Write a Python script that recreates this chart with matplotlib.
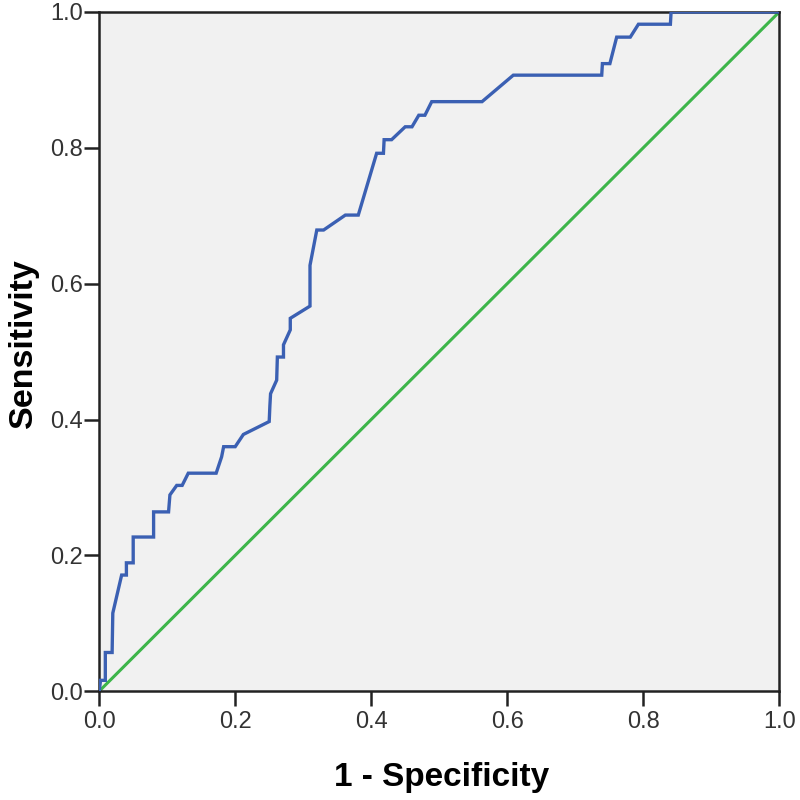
import matplotlib
matplotlib.use("Agg")
import matplotlib.pyplot as plt

# ROC curve points (1 - specificity, sensitivity)
fpr = [0.000, 0.002, 0.009, 0.009, 0.019, 0.020, 0.033, 0.040, 0.040, 0.050,
       0.050, 0.080, 0.080, 0.102, 0.104, 0.114, 0.122, 0.131, 0.172, 0.180,
       0.183, 0.200, 0.212, 0.250, 0.251, 0.252, 0.261, 0.262, 0.271, 0.271,
       0.281, 0.281, 0.310, 0.310, 0.320, 0.330, 0.362, 0.381, 0.408, 0.418,
       0.419, 0.430, 0.450, 0.460, 0.470, 0.479, 0.489, 0.563, 0.609, 0.739,
       0.740, 0.751, 0.761, 0.781, 0.793, 0.840, 0.841, 1.000]
tpr = [0.000, 0.016, 0.016, 0.057, 0.057, 0.115, 0.171, 0.171, 0.189, 0.189,
       0.227, 0.227, 0.264, 0.264, 0.289, 0.303, 0.303, 0.321, 0.321, 0.345,
       0.360, 0.360, 0.378, 0.397, 0.420, 0.438, 0.458, 0.492, 0.492, 0.510,
       0.532, 0.549, 0.567, 0.627, 0.679, 0.679, 0.701, 0.701, 0.792, 0.792,
       0.812, 0.812, 0.831, 0.831, 0.848, 0.848, 0.868, 0.868, 0.907, 0.907,
       0.924, 0.924, 0.963, 0.963, 0.982, 0.982, 1.000, 1.000]

ref_line = [0.0, 1.0]
ticks = [0.0, 0.2, 0.4, 0.6, 0.8, 1.0]
tick_labels = ["0.0", "0.2", "0.4", "0.6", "0.8", "1.0"]

plt.rcParams["font.family"] = ["Liberation Sans", "DejaVu Sans"]

fig = plt.figure(figsize=(8, 8), dpi=100)
ax = fig.add_axes([0.124, 0.136, 0.850, 0.849])
ax.set_facecolor("#f1f1f1")

ax.plot(ref_line, ref_line, color="#3db54a", linewidth=2.2, zorder=2)
ax.plot(fpr, tpr, color="#3b60b3", linewidth=2.4, zorder=3,
        solid_joinstyle="miter")

ax.set_xlim(0, 1)
ax.set_ylim(0, 1)
ax.set_xticks(ticks)
ax.set_xticklabels(tick_labels)
ax.set_yticks(ticks)
ax.set_yticklabels(tick_labels)
ax.tick_params(direction="out", length=11, width=1.8, colors="#222222",
               labelsize=17, labelcolor="#333333")
ax.tick_params(axis="x", pad=3)
ax.tick_params(axis="y", pad=0.5)

for side in ax.spines.values():
    side.set_linewidth(1.8)
    side.set_color("#222222")

ax.set_xlabel("1 - Specificity", fontsize=24, fontweight="bold")
ax.set_ylabel("Sensitivity", fontsize=24.5, fontweight="bold")
ax.xaxis.set_label_coords(0.504, -0.104)
ax.yaxis.set_label_coords(-0.088, 0.512)

fig.savefig("out.png", dpi=100, facecolor="white")
